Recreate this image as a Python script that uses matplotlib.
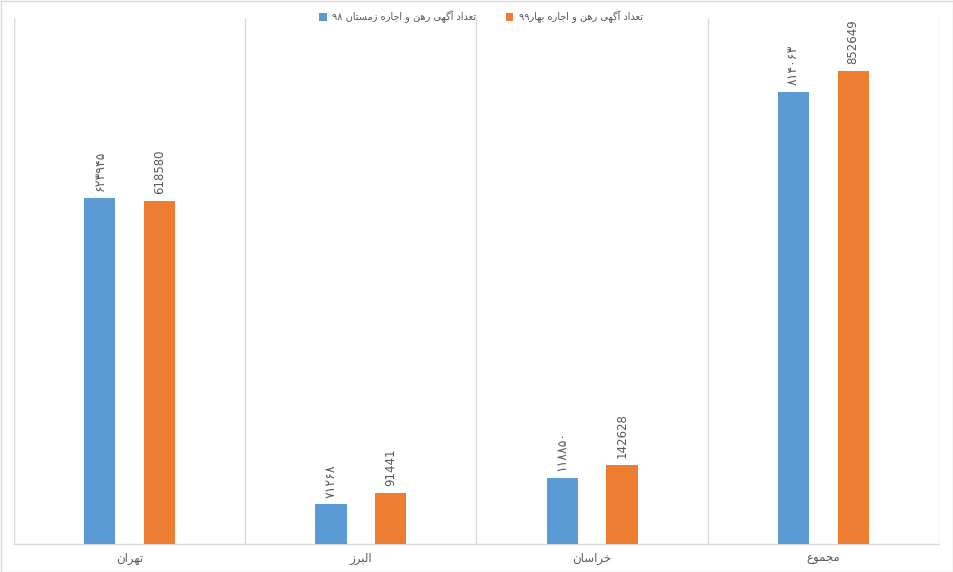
import matplotlib
matplotlib.use("Agg")
import matplotlib.pyplot as plt
from matplotlib.patches import Rectangle
import numpy as np

categories = ["تهران", "البرز", "خراسان", "مجموع"]
series_names = ["تعداد آگهی رهن و اجاره زمستان ۹۸", "تعداد آگهی رهن و اجاره بهار۹۹"]
winter98 = [623945, 71268, 118850, 814063]
spring99 = [618580, 91441, 142628, 852649]
winter98_labels = ["۶۲۳۹۴۵", "۷۱۲۶۸", "۱۱۸۸۵۰", "۸۱۴۰۶۳"]
spring99_labels = ["618580", "91441", "142628", "852649"]
colors = ["#5B9BD5", "#ED7D31"]

# --- minimal Arabic/Persian shaping (presentation forms) + RTL ordering ---
FORMS = {
    "\u0627": ("\uFE8D", "\uFE8E", None, None),
    "\u0622": ("\uFE81", "\uFE82", None, None),
    "\u0628": ("\uFE8F", "\uFE90", "\uFE91", "\uFE92"),
    "\u062A": ("\uFE95", "\uFE96", "\uFE97", "\uFE98"),
    "\u062C": ("\uFE9D", "\uFE9E", "\uFE9F", "\uFEA0"),
    "\u062E": ("\uFEA5", "\uFEA6", "\uFEA7", "\uFEA8"),
    "\u062F": ("\uFEA9", "\uFEAA", None, None),
    "\u0631": ("\uFEAD", "\uFEAE", None, None),
    "\u0632": ("\uFEAF", "\uFEB0", None, None),
    "\u0633": ("\uFEB1", "\uFEB2", "\uFEB3", "\uFEB4"),
    "\u0639": ("\uFEC9", "\uFECA", "\uFECB", "\uFECC"),
    "\u0644": ("\uFEDD", "\uFEDE", "\uFEDF", "\uFEE0"),
    "\u0645": ("\uFEE1", "\uFEE2", "\uFEE3", "\uFEE4"),
    "\u0646": ("\uFEE5", "\uFEE6", "\uFEE7", "\uFEE8"),
    "\u0647": ("\uFEE9", "\uFEEA", "\uFEEB", "\uFEEC"),
    "\u0648": ("\uFEED", "\uFEEE", None, None),
    "\u06CC": ("\uFBFC", "\uFBFD", "\uFBFE", "\uFBFF"),
    "\u06AF": ("\uFB92", "\uFB93", "\uFB94", "\uFB95"),
}


def dual(c):
    return c in FORMS and FORMS[c][2] is not None


def shape(text):
    out = []
    n = len(text)
    for i, c in enumerate(text):
        if c not in FORMS:
            out.append(c)
            continue
        iso, fin, ini, med = FORMS[c]
        prev_join = i > 0 and dual(text[i - 1])
        next_join = ini is not None and i + 1 < n and text[i + 1] in FORMS
        if prev_join and next_join:
            out.append(med)
        elif prev_join:
            out.append(fin)
        elif next_join:
            out.append(ini)
        else:
            out.append(iso)
    # visual RTL order, keeping digit runs LTR
    runs = []
    for ch in out:
        isd = ch.isdigit()
        if runs and isd and runs[-1][0]:
            runs[-1][1].append(ch)
        else:
            runs.append([isd, [ch]])
    res = []
    for isd, chars in reversed(runs):
        if isd:
            res.extend(chars)
        else:
            res.extend(reversed(chars))
    return "".join(res)


plt.rcParams["font.family"] = ["DejaVu Sans"]
text_color = "#595959"
grid_color = "#D9D9D9"

fig = plt.figure(figsize=(9.54, 5.72), dpi=100)
fig.patches.append(Rectangle((0.5 / 954, 0.5 / 572), 952.5 / 954, 570.5 / 572,
                             transform=fig.transFigure, fill=False,
                             edgecolor=grid_color, linewidth=1.0))
ax = fig.add_axes([14 / 954, 1 - 544 / 572, 925 / 954, 526 / 572])

x = np.arange(len(categories))
w = 0.135
off = 0.129
b1 = ax.bar(x - off, winter98, width=w, color=colors[0], label=shape(series_names[0]), zorder=3)
b2 = ax.bar(x + off, spring99, width=w, color=colors[1], label=shape(series_names[1]), zorder=3)

ymax = 948000
ax.set_ylim(0, ymax)
ax.set_xlim(-0.5, len(categories) - 0.5)

for xi, v, lab in zip(x - off, winter98, winter98_labels):
    ax.annotate(lab, (xi, v), xytext=(0, 5), textcoords="offset points",
                rotation=90, ha="center", va="bottom", fontsize=9, color=text_color)
for xi, v, lab in zip(x + off, spring99, spring99_labels):
    ax.annotate(lab, (xi, v), xytext=(0, 5), textcoords="offset points",
                rotation=90, ha="center", va="bottom", fontsize=8.5, color=text_color)

for sx in np.arange(-0.5, len(categories), 1.0):
    ax.axvline(sx, color=grid_color, linewidth=1.0, zorder=1)

for s in ["top", "left", "right"]:
    ax.spines[s].set_visible(False)
ax.spines["bottom"].set_color(grid_color)
ax.spines["bottom"].set_linewidth(1.0)
ax.set_yticks([])
ax.set_xticks(x)
ax.set_xticklabels([shape(c) for c in categories], fontsize=8.5, color=text_color)
ax.tick_params(axis="x", length=0, pad=6)

leg = fig.legend(loc="center", bbox_to_anchor=(481 / 954, 1 - 17 / 572), ncol=2,
                 frameon=False, fontsize=7, handlelength=0.8, handleheight=0.8,
                 handletextpad=0.6, columnspacing=3.0)
for t in leg.get_texts():
    t.set_color(text_color)

fig.savefig("out.png", dpi=100)
